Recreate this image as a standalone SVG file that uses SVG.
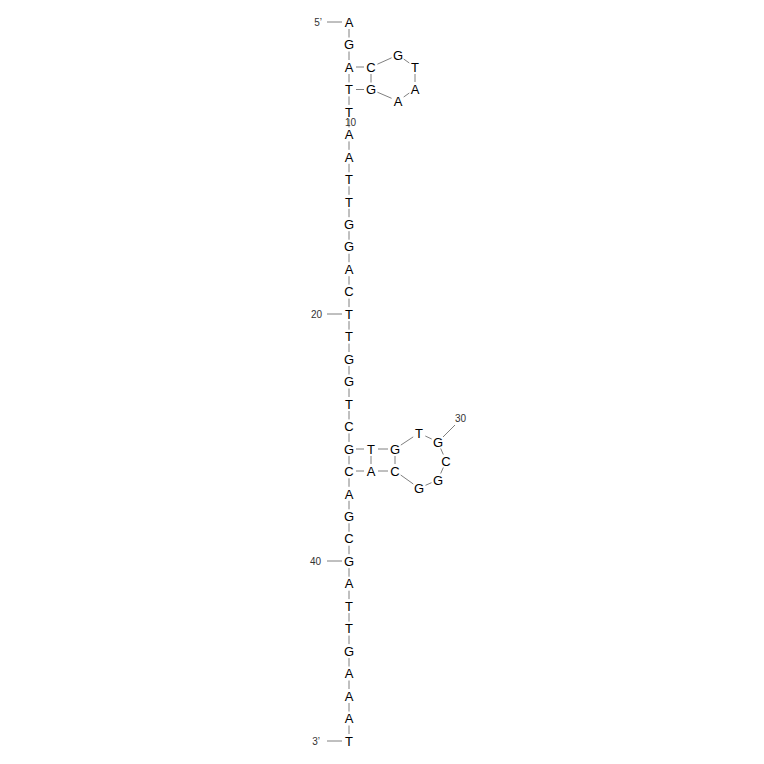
<svg xmlns="http://www.w3.org/2000/svg" width="764" height="764" viewBox="0 0 764 764">
<style>
.nt{font-family:"Liberation Sans",Arial,sans-serif;font-size:13px;fill:#000;text-anchor:middle}
.lb{font-family:"Liberation Sans",Arial,sans-serif;font-size:10px;fill:#333}
.ln line{stroke:#808080;stroke-width:1}
</style>
<rect width="764" height="764" fill="#fff"/>
<g id="connectors" class="ln">
<line x1="349" y1="29" x2="349" y2="37.5"/>
<line x1="349" y1="51.5" x2="349" y2="60"/>
<line x1="349" y1="74" x2="349" y2="82.4"/>
<line x1="349" y1="96.4" x2="349" y2="104.9"/>
<line x1="349" y1="118.9" x2="349" y2="127.4"/>
<line x1="349" y1="141.4" x2="349" y2="149.8"/>
<line x1="349" y1="163.8" x2="349" y2="172.3"/>
<line x1="349" y1="186.3" x2="349" y2="194.8"/>
<line x1="349" y1="208.8" x2="349" y2="217.2"/>
<line x1="349" y1="231.2" x2="349" y2="239.7"/>
<line x1="349" y1="253.7" x2="349" y2="262.2"/>
<line x1="349" y1="276.2" x2="349" y2="284.6"/>
<line x1="349" y1="298.6" x2="349" y2="307.1"/>
<line x1="349" y1="321.1" x2="349" y2="329.6"/>
<line x1="349" y1="343.6" x2="349" y2="352"/>
<line x1="349" y1="366" x2="349" y2="374.5"/>
<line x1="349" y1="388.5" x2="349" y2="397"/>
<line x1="349" y1="411" x2="349" y2="419.4"/>
<line x1="349" y1="433.4" x2="349" y2="441.9"/>
<line x1="349" y1="455.9" x2="349" y2="464.3"/>
<line x1="349" y1="478.3" x2="349" y2="486.8"/>
<line x1="349" y1="500.8" x2="349" y2="509.3"/>
<line x1="349" y1="523.3" x2="349" y2="531.7"/>
<line x1="349" y1="545.7" x2="349" y2="554.2"/>
<line x1="349" y1="568.2" x2="349" y2="576.7"/>
<line x1="349" y1="590.7" x2="349" y2="599.1"/>
<line x1="349" y1="613.1" x2="349" y2="621.6"/>
<line x1="349" y1="635.6" x2="349" y2="644.1"/>
<line x1="349" y1="658.1" x2="349" y2="666.5"/>
<line x1="349" y1="680.5" x2="349" y2="689"/>
<line x1="349" y1="703" x2="349" y2="711.5"/>
<line x1="349" y1="725.5" x2="349" y2="734"/>
<line x1="356" y1="67" x2="364" y2="67"/>
<line x1="377.4" y1="64.2" x2="391.6" y2="57.8"/>
<line x1="403.7" y1="59" x2="409.3" y2="63"/>
<line x1="415" y1="74" x2="415" y2="82"/>
<line x1="409.3" y1="93" x2="403.7" y2="97"/>
<line x1="391.6" y1="98.3" x2="377.4" y2="92.2"/>
<line x1="371" y1="74" x2="371" y2="82.5"/>
<line x1="364" y1="89.5" x2="356" y2="89.5"/>
<line x1="356" y1="449" x2="364" y2="449"/>
<line x1="378" y1="449" x2="388" y2="449"/>
<line x1="400.8" y1="445.1" x2="413.2" y2="436.9"/>
<line x1="425.3" y1="436" x2="431.7" y2="439"/>
<line x1="440.7" y1="448.5" x2="443.3" y2="454.5"/>
<line x1="443.3" y1="467.5" x2="440.7" y2="473.5"/>
<line x1="431.5" y1="482.7" x2="425.5" y2="485.3"/>
<line x1="413.3" y1="484" x2="400.7" y2="475"/>
<line x1="388" y1="471" x2="378" y2="471"/>
<line x1="364" y1="471" x2="356" y2="471"/>
<line x1="395" y1="456" x2="395" y2="464"/>
<line x1="371" y1="456" x2="371" y2="464"/>
<line x1="327" y1="22" x2="342" y2="22"/>
<line x1="327" y1="314" x2="342" y2="314"/>
<line x1="327" y1="561" x2="342" y2="561"/>
<line x1="327" y1="741" x2="342" y2="741"/>
<line x1="443" y1="437" x2="455" y2="425"/>
</g>
<g id="labels">
<text class="lb" x="322" y="25.5" text-anchor="end">5’</text>
<text class="lb" x="350.5" y="126" text-anchor="middle">10</text>
<text class="lb" x="322" y="317.5" text-anchor="end">20</text>
<text class="lb" x="455" y="422">30</text>
<text class="lb" x="321" y="564.5" text-anchor="end">40</text>
<text class="lb" x="320" y="744.5" text-anchor="end">3’</text>
</g>
<g id="n1"><text class="nt" x="349" y="26.7">A</text></g>
<g id="n2"><text class="nt" x="349" y="49.2">G</text></g>
<g id="n3"><text class="nt" x="349" y="71.7">A</text></g>
<g id="n4"><text class="nt" x="371" y="71.7">C</text></g>
<g id="n5"><text class="nt" x="398" y="59.7">G</text></g>
<g id="n6"><text class="nt" x="415" y="71.7">T</text></g>
<g id="n7"><text class="nt" x="415" y="93.7">A</text></g>
<g id="n8"><text class="nt" x="398" y="105.7">A</text></g>
<g id="n9"><text class="nt" x="371" y="94.2">G</text></g>
<g id="n10"><text class="nt" x="349" y="94.2">T</text></g>
<g id="n11"><text class="nt" x="349" y="116.6">T</text></g>
<g id="n12"><text class="nt" x="349" y="139.1">A</text></g>
<g id="n13"><text class="nt" x="349" y="161.5">A</text></g>
<g id="n14"><text class="nt" x="349" y="184">T</text></g>
<g id="n15"><text class="nt" x="349" y="206.5">T</text></g>
<g id="n16"><text class="nt" x="349" y="228.9">G</text></g>
<g id="n17"><text class="nt" x="349" y="251.4">G</text></g>
<g id="n18"><text class="nt" x="349" y="273.9">A</text></g>
<g id="n19"><text class="nt" x="349" y="296.3">C</text></g>
<g id="n20"><text class="nt" x="349" y="318.8">T</text></g>
<g id="n21"><text class="nt" x="349" y="341.3">T</text></g>
<g id="n22"><text class="nt" x="349" y="363.7">G</text></g>
<g id="n23"><text class="nt" x="349" y="386.2">G</text></g>
<g id="n24"><text class="nt" x="349" y="408.7">T</text></g>
<g id="n25"><text class="nt" x="349" y="431.1">C</text></g>
<g id="n26"><text class="nt" x="349" y="453.6">G</text></g>
<g id="n27"><text class="nt" x="371" y="453.7">T</text></g>
<g id="n28"><text class="nt" x="395" y="453.7">G</text></g>
<g id="n29"><text class="nt" x="419" y="437.7">T</text></g>
<g id="n30"><text class="nt" x="438" y="446.7">G</text></g>
<g id="n31"><text class="nt" x="446" y="465.7">C</text></g>
<g id="n32"><text class="nt" x="438" y="484.7">G</text></g>
<g id="n33"><text class="nt" x="419" y="492.7">G</text></g>
<g id="n34"><text class="nt" x="395" y="475.7">C</text></g>
<g id="n35"><text class="nt" x="371" y="475.7">A</text></g>
<g id="n36"><text class="nt" x="349" y="476">C</text></g>
<g id="n37"><text class="nt" x="349" y="498.5">A</text></g>
<g id="n38"><text class="nt" x="349" y="521">G</text></g>
<g id="n39"><text class="nt" x="349" y="543.4">C</text></g>
<g id="n40"><text class="nt" x="349" y="565.9">G</text></g>
<g id="n41"><text class="nt" x="349" y="588.4">A</text></g>
<g id="n42"><text class="nt" x="349" y="610.8">T</text></g>
<g id="n43"><text class="nt" x="349" y="633.3">T</text></g>
<g id="n44"><text class="nt" x="349" y="655.8">G</text></g>
<g id="n45"><text class="nt" x="349" y="678.2">A</text></g>
<g id="n46"><text class="nt" x="349" y="700.7">A</text></g>
<g id="n47"><text class="nt" x="349" y="723.2">A</text></g>
<g id="n48"><text class="nt" x="349" y="745.7">T</text></g>
</svg>
